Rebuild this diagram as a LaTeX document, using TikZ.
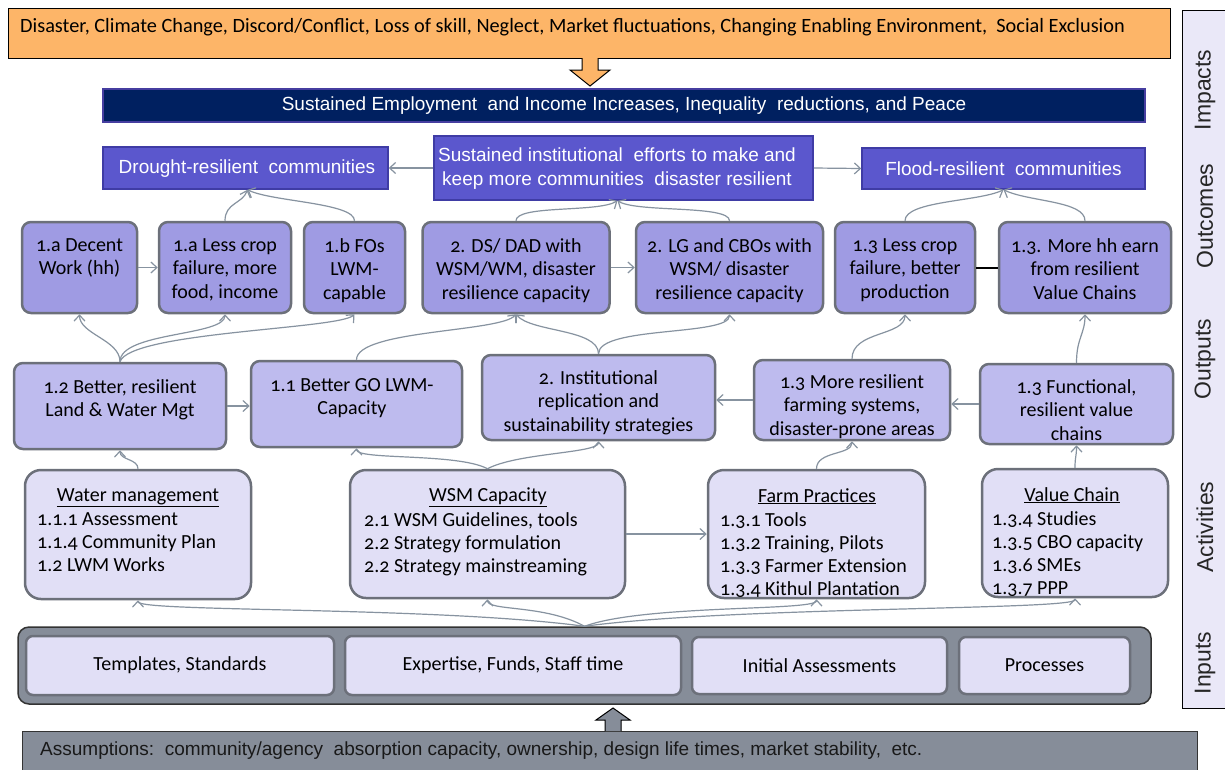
\documentclass[tikz,border=0pt]{standalone}
\usepackage{fontspec}
\setmainfont{Carlito}[Numbers=OldStyle]
\newfontfamily\arialf{Liberation Sans}
\usetikzlibrary{arrows.meta,calc}
\definecolor{orangeF}{RGB}{253,181,104}
\definecolor{navyF}{RGB}{0,32,96}
\definecolor{navyB}{RGB}{70,62,160}
\definecolor{blueF}{RGB}{91,87,205}
\definecolor{blueB}{RGB}{63,60,165}
\definecolor{outcF}{RGB}{159,155,227}
\definecolor{outpF}{RGB}{190,187,238}
\definecolor{actF}{RGB}{225,223,246}
\definecolor{boxB}{RGB}{108,112,122}
\definecolor{grayF}{RGB}{134,141,153}
\definecolor{connC}{RGB}{135,147,160}
\definecolor{labF}{RGB}{234,232,248}
\begin{document}
\begin{tikzpicture}[x=1pt,y=-1pt,
  bt/.style={font=\fontsize{20}{23.5}\selectfont, align=center, inner sep=0pt, anchor=north},
  lt/.style={font=\fontsize{20}{23.2}\selectfont, align=left, inner sep=0pt, anchor=north west},
  wt/.style={font=\arialf\fontsize{19}{24}\selectfont, text=white, align=center, inner sep=0pt},
  outc/.style={draw=boxB, line width=2.5pt, fill=outcF, rounded corners=9pt, inner sep=0pt},
  outp/.style={draw=boxB, line width=2.5pt, fill=outpF, rounded corners=9pt, inner sep=0pt},
  actb/.style={draw=boxB, line width=2.5pt, fill=actF, rounded corners=16pt, inner sep=0pt},
  inb/.style={draw=boxB, line width=2.5pt, fill=actF, rounded corners=7pt, inner sep=0pt, font=\fontsize{20}{22}\selectfont},
  bluebox/.style={draw=blueB, line width=1.5pt, fill=blueF, inner sep=0pt},
  conn/.style={draw=connC, line width=1.2pt, -{Straight Barb[length=6pt,width=11pt]}},
  lab/.style={font=\arialf\fontsize{23}{26}\selectfont, rotate=90, inner sep=0pt, text=black!85}
]
\useasboundingbox (0,0) rectangle (1225,769);
\fill[white] (0,0) rectangle (1225,769);

% right label column
\node[draw=black, line width=0.8pt, fill=labF, minimum width=60pt, minimum height=698pt, inner sep=0pt] (labcol) at (1212,359) {};
\node[lab] (lImp) at (1205,90) {Impacts};
\node[lab] (lOutc) at (1205,216) {Outcomes};
\node[lab] (lOutp) at (1205,359) {Outputs};
\node[lab] (lAct) at (1205,527) {Activities};
\node[lab] (lInp) at (1205,663) {Inputs};

% top box
\node[draw=black, line width=1pt, fill=orangeF, minimum width=1162pt, minimum height=50pt, inner sep=0pt] (top) at (589,33) {};
\node[font=\fontsize{20.3}{22}\selectfont, anchor=west, inner sep=0pt] (topt) at (20,27.5) {Disaster, Climate Change, Discord/Conflict, Loss of skill, Neglect, Market fluctuations, Changing Enabling Environment,\ \ Social Exclusion};
% down block arrow
\draw[fill=orangeF, draw=black, line width=1pt] (582,58) -- (582,70) -- (570,70) -- (590,86) -- (610,70) -- (598,70) -- (598,58);

% navy bar
\node[draw=navyB, line width=1.5pt, fill=navyF, minimum width=1042pt, minimum height=33pt, inner sep=0pt] (navy) at (624,105.5) {};
\node[wt] (navyt) at (624,105.5) {Sustained Employment\ \ and Income Increases, Inequality\ \ reductions, and Peace};

% blue outcome boxes
\node[bluebox, minimum width=285pt, minimum height=42pt] (drought) at (245.5,168) {};
\node[wt] (droughtt) at (247,168.5) {Drought-resilient\ \ communities};
\node[bluebox, minimum width=379pt, minimum height=64pt] (sust) at (623.5,168) {};
\node[wt] (sustt) at (617,168.5) {Sustained institutional\ \ efforts to make and\\keep more communities\ \ disaster resilient};
\node[bluebox, minimum width=283pt, minimum height=41pt] (flood) at (1003.5,168.5) {};
\node[wt] (floodt) at (1003.5,169) {Flood-resilient\ \ communities};

% outcomes row
\node[outc, minimum width=115pt, minimum height=91pt] (oA) at (79.5,267.5) {};
\node[outc, minimum width=132pt, minimum height=91pt] (oB) at (225,267.5) {};
\node[outc, minimum width=101pt, minimum height=91pt] (oC) at (354.5,267.5) {};
\node[outc, minimum width=187pt, minimum height=91pt] (oD) at (516,267.5) {};
\node[outc, minimum width=187pt, minimum height=91pt] (oE) at (729.5,267.5) {};
\node[outc, minimum width=140pt, minimum height=91pt] (oF) at (905,267.5) {};
\node[outc, minimum width=172pt, minimum height=91pt] (oG) at (1085,267.5) {};
\node[bt] (oAt) at (79.5,238) {1.a Decent\\Work (hh)};
\node[bt] (oBt) at (225,238) {1.a Less crop\\failure, more\\food, income};
\node[bt] (oCt) at (354.5,238) {1.b FOs\\LWM-\\capable};
\node[bt] (oDt) at (516,238) {2. DS/ DAD with\\WSM/WM, disaster\\resilience capacity};
\node[bt] (oEt) at (729.5,238) {2. LG and CBOs with\\WSM/ disaster\\resilience capacity};
\node[bt] (oFt) at (905,238) {1.3 Less crop\\failure, better\\production};
\node[bt] (oGt) at (1085,238) {1.3. More hh earn\\from resilient\\Value Chains};

% outputs row
\node[outp, minimum width=212pt, minimum height=86pt] (pA) at (120,406) {};
\node[outp, minimum width=211pt, minimum height=86pt] (pB) at (356.5,404) {};
\node[outp, minimum width=233pt, minimum height=85pt] (pC) at (598.5,397.5) {};
\node[outp, minimum width=196pt, minimum height=80pt] (pD) at (852,400) {};
\node[outp, minimum width=193pt, minimum height=80pt] (pE) at (1076.5,404) {};
\node[bt] (pAt) at (120,379) {1.2 Better, resilient\\Land \& Water Mgt};
\node[bt] (pBt) at (352,378) {1.1 Better GO LWM-\\Capacity};
\node[bt] (pCt) at (598.5,370) {2. Institutional\\replication and\\sustainability strategies};
\node[bt] (pDt) at (852,374) {1.3 More resilient\\farming systems,\\disaster-prone areas};
\node[bt] (pEt) at (1076.5,379) {1.3 Functional,\\resilient value\\chains};

% activities row
\node[actb, minimum width=226pt, minimum height=129pt] (aA) at (138,534.5) {};
\node[actb, minimum width=275pt, minimum height=128pt] (aB) at (487.5,534) {};
\node[actb, minimum width=217pt, minimum height=128pt] (aC) at (816.5,534) {};
\node[actb, minimum width=186pt, minimum height=128pt] (aD) at (1075,533) {};
\node[bt] (aAh) at (138,488) {\underline{Water management}};
\node[lt] (aAt) at (37,512) {1.1.1 Assessment\\1.1.4 Community Plan\\1.2 LWM Works};
\node[bt] (aBh) at (488,488) {\underline{WSM Capacity}};
\node[lt] (aBt) at (364,512) {2.1 WSM Guidelines, tools\\2.2 Strategy formulation\\2.2 Strategy mainstreaming};
\node[bt] (aCh) at (817,488) {\underline{Farm Practices}};
\node[lt] (aCt) at (720,512) {1.3.1 Tools\\1.3.2 Training, Pilots\\1.3.3 Farmer Extension\\1.3.4 Kithul Plantation};
\node[bt] (aDh) at (1072,487) {\underline{Value Chain}};
\node[lt] (aDt) at (992,511) {1.3.4 Studies\\1.3.5 CBO capacity\\1.3.6 SMEs\\1.3.7 PPP};

% inputs
\node[draw=black!80, line width=1.5pt, fill=grayF, rounded corners=11pt, minimum width=1133pt, minimum height=77pt, inner sep=0pt] (inp) at (584.5,665.5) {};
\node[inb, minimum width=308pt, minimum height=59pt] (iA) at (180,665.5) {Templates, Standards};
\node[inb, minimum width=336pt, minimum height=59pt] (iB) at (513,665.5) {Expertise, Funds, Staff time};
\node[inb, minimum width=255pt, minimum height=57pt] (iC) at (819.5,665.5) {Initial Assessments};
\node[inb, minimum width=171pt, minimum height=57pt] (iD) at (1044.5,665.5) {Processes};

% assumptions
\node[draw=black!80, line width=1pt, fill=grayF, minimum width=1175pt, minimum height=60pt, inner sep=0pt] (assum) at (609.5,761) {};
\node[font=\arialf\fontsize{19}{22}\selectfont, anchor=west, inner sep=0pt, text=black!90] (assumt) at (40,750.5) {Assumptions:\ \ community/agency\ \ absorption capacity, ownership, design life times, market stability,\ \ etc.};
% up block arrow
\draw[fill=grayF, draw=black, line width=1pt] (605,731) -- (605,720) -- (596,720) -- (613,708) -- (630,720) -- (621,720) -- (621,731);

% straight connectors
\draw[conn] (sust.west) -- (drought.east);
\draw[conn] (sust.east) -- (flood.west);
\draw[conn] (oA.east) -- (oB.west);
\draw[conn] (oD.east) -- (oE.west);
\draw[black, line width=2pt] (oF.east) -- (oG.west);
\draw[conn] (pA.east) -- (pA.east -| pB.west);
\draw[conn] (pD.west) -- (pD.west -| pC.east);
\draw[conn] (pE.west) -- (pE.west -| pD.east);
\draw[conn] (aB.east) -- (aC.west);

% curved connectors: outcomes -> blue boxes
\draw[conn] (oB.north) .. controls +(0,-18) and +(-5,14) .. ([xshift=2pt]drought.south);
\draw[conn] (oC.north) .. controls +(0,-18) and +(25,12) .. ([xshift=2pt]drought.south);
\draw[conn] (oD.north) .. controls +(0,-16) and +(-20,12) .. ([xshift=-6pt]sust.south);
\draw[conn] (oE.north) .. controls +(0,-16) and +(20,12) .. ([xshift=-6pt]sust.south);
\draw[conn] (oF.north) .. controls +(0,-20) and +(-25,12) .. (flood.south);
\draw[conn] (oG.north) .. controls +(0,-20) and +(25,12) .. (flood.south);

% outputs -> outcomes
\draw[conn] (pA.north) .. controls +(0,-22) and +(0,20) .. (oA.south);
\draw[conn] (pA.north) .. controls +(0,-30) and +(0,22) .. (oB.south);
\draw[conn] (pA.north) .. controls +(10,-30) and +(-15,15) .. (oC.south);
\draw[conn] (pB.north) .. controls +(0,-30) and +(-15,18) .. (oD.south);
\draw[conn] (pC.north) .. controls +(0,-25) and +(15,18) .. (oD.south);
\draw[conn] (pC.north) .. controls +(0,-28) and +(0,22) .. (oE.south);
\draw[conn] (pD.north) .. controls +(0,-28) and +(0,22) .. (oF.south);
\draw[conn] (pE.north) .. controls +(0,-25) and +(0,20) .. (oG.south);

% activities -> outputs
\draw[conn] (aA.north) .. controls +(0,-10) and +(0,10) .. (pA.south);
\draw[conn] (aB.north) .. controls +(-30,-16) and +(0,12) .. (pB.south);
\draw[conn] (aB.north) .. controls +(30,-16) and +(0,12) .. (pC.south);
\draw[conn] (aC.north) .. controls +(0,-18) and +(0,14) .. (pD.south);
\draw[conn] (aD.north) .. controls +(0,-12) and +(0,12) .. (pE.south);

% inputs -> activities
\draw[conn] (inp.north) .. controls +(-150,-20) and +(0,12) .. (aA.south);
\draw[conn] (inp.north) .. controls +(-40,-22) and +(0,12) .. (aB.south);
\draw[conn] (inp.north) .. controls +(60,-22) and +(0,12) .. (aC.south);
\draw[conn] (inp.north) .. controls +(150,-20) and +(0,12) .. (aD.south);
\end{tikzpicture}
\end{document}
